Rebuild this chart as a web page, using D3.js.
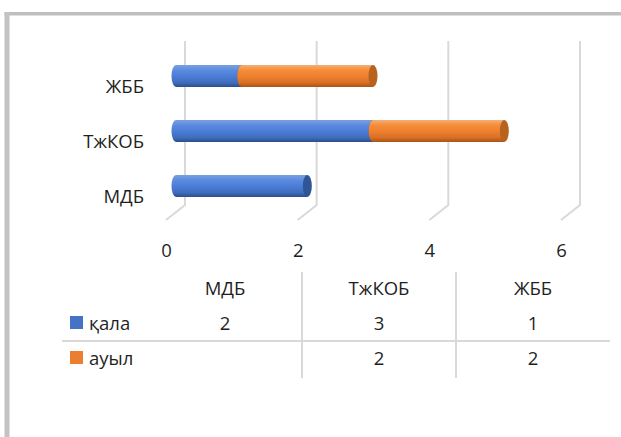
<!DOCTYPE html>
<html>
<head>
<meta charset="utf-8">
<script src="https://cdn.jsdelivr.net/npm/d3@7"></script>
<style>
  html, body { margin: 0; padding: 0; background: #fff; }
  svg { display: block; }
  text { font-family: "Open Sans", "Liberation Sans", sans-serif; fill: #1f1f1f; }
</style>
</head>
<body>
<svg id="chart" width="621" height="437"></svg>
<script>
// Categories (bottom to top on the chart) and series values
const categories = ["МДБ", "ТжКОБ", "ЖББ"];
const seriesNames = ["қала", "ауыл"];
const kala = [2, 3, 1];
const auyl = [null, 2, 2];
const xTicks = [0, 2, 4, 6];
const seriesColors = ["#4472C4", "#ED7D31"];

const svg = d3.select("#chart");
const W = 621, H = 437;
const fontSize = 18.5;
const fontFamily = "'Open Sans', 'Liberation Sans', sans-serif";

// outer frame (left and top edges)
svg.append("rect").attr("x", 4.5).attr("y", 12).attr("width", W).attr("height", 3.5).attr("fill", "#bfbfbf");
svg.append("rect").attr("x", 4.5).attr("y", 12).attr("width", 5).attr("height", H).attr("fill", "#c3c3c3");

// value scales for the back wall, the floor front edge and the bars themselves
const xBack = d3.scaleLinear().domain([0, 6]).range([185, 580]);
const xFront = d3.scaleLinear().domain([0, 6]).range([166, 561]);
const xBar = d3.scaleLinear().domain([0, 6]).range([176, 570]);
const yCat = d3.scalePoint().domain(categories).range([186, 76]);

const wallTop = 41, wallBottom = 205, floorFront = 220;

// gridlines: vertical on the back wall, slanting across the floor
const grid = svg.append("g");
xTicks.forEach(v => {
  grid.append("path")
    .attr("d", `M${xBack(v)},${wallTop} L${xBack(v)},${wallBottom} L${xFront(v)},${floorFront}`)
    .attr("fill", "none").attr("stroke", "#d9d9d9").attr("stroke-width", 2);
});

// tick labels along the floor front edge
const xAxis = d3.axisBottom(xFront).tickValues(xTicks).tickSize(0).tickPadding(0).tickFormat(d3.format("d"));
const gx = svg.append("g").attr("transform", `translate(0,${floorFront + 31})`).call(xAxis);
gx.select(".domain").remove();
gx.selectAll("text").attr("font-size", fontSize).attr("dy", "0.35em")
  .style("font-family", fontFamily).attr("fill", "#1f1f1f");

// category labels
const yAxis = d3.axisLeft(yCat).tickSize(0).tickPadding(0);
const gy = svg.append("g").attr("transform", `translate(144,10)`).call(yAxis);
gy.select(".domain").remove();
gy.selectAll("text").attr("font-size", fontSize).attr("dy", "0.35em")
  .style("font-family", fontFamily).attr("fill", "#1f1f1f");

// gradients for the cylindrical bars
const defs = svg.append("defs");
const shades = [
  { id: "g0", stops: ["#7aa0e0", "#5a8ae0", "#4a7bd3", "#3f6dbd", "#2c4e8c"] },
  { id: "g1", stops: ["#f4ae76", "#f68c37", "#ec7f2e", "#d86f24", "#a9541a"] }
];
shades.forEach(s => {
  const g = defs.append("linearGradient").attr("id", s.id).attr("x1", 0).attr("y1", 0).attr("x2", 0).attr("y2", 1);
  [0, 0.25, 0.55, 0.8, 1].forEach((o, i) => g.append("stop").attr("offset", o).attr("stop-color", s.stops[i]));
});
const capFill = ["#2f5597", "#b8621f"];

// stacked data
const rows = categories.map((c, i) => ({ cat: c, "қала": kala[i] || 0, "ауыл": auyl[i] || 0 }));
const stack = d3.stack().keys(seriesNames)(rows);

const barH = 22, rx = 4.5, ry = barH / 2;
const bars = svg.append("g");
stack.forEach((layer, si) => {
  layer.forEach(d => {
    if (d[1] - d[0] <= 0) return;
    const x0 = xBar(d[0]), x1 = xBar(d[1]);
    const cy = yCat(d.data.cat);
    const top = cy - ry, bot = cy + ry;
    bars.append("path")
      .attr("d", `M${x0},${top} L${x1},${top} L${x1},${bot} L${x0},${bot} A${rx},${ry} 0 0 1 ${x0},${top} Z`)
      .attr("fill", `url(#g${si})`);
    bars.append("ellipse")
      .attr("cx", x1).attr("cy", cy).attr("rx", rx).attr("ry", ry)
      .attr("fill", capFill[si]);
  });
});

// data table
const colEdges = [148, 302, 456, 610];
const colCenter = i => (colEdges[i] + colEdges[i + 1]) / 2;
const table = svg.append("g");
[302, 456].forEach(x => table.append("line")
  .attr("x1", x).attr("x2", x).attr("y1", 272).attr("y2", 378)
  .attr("stroke", "#d9d9d9").attr("stroke-width", 2));
table.append("line").attr("x1", 62).attr("x2", 610).attr("y1", 341).attr("y2", 341)
  .attr("stroke", "#d9d9d9").attr("stroke-width", 2);

const headerY = 289, rowY = [324, 359];
categories.forEach((c, i) => {
  table.append("text").attr("x", colCenter(i)).attr("y", headerY).attr("dy", "0.35em")
    .attr("text-anchor", "middle").attr("font-size", fontSize).text(c);
});
[kala, auyl].forEach((vals, r) => {
  vals.forEach((v, i) => {
    if (v == null) return;
    table.append("text").attr("x", colCenter(i)).attr("y", rowY[r]).attr("dy", "0.35em")
      .attr("text-anchor", "middle").attr("font-size", fontSize).text(v);
  });
  table.append("rect").attr("x", 70).attr("y", rowY[r] - 8).attr("width", 13).attr("height", 13)
    .attr("fill", seriesColors[r]);
  table.append("text").attr("x", 89).attr("y", rowY[r]).attr("dy", "0.35em")
    .attr("font-size", fontSize).text(seriesNames[r]);
});
</script>
</body>
</html>
